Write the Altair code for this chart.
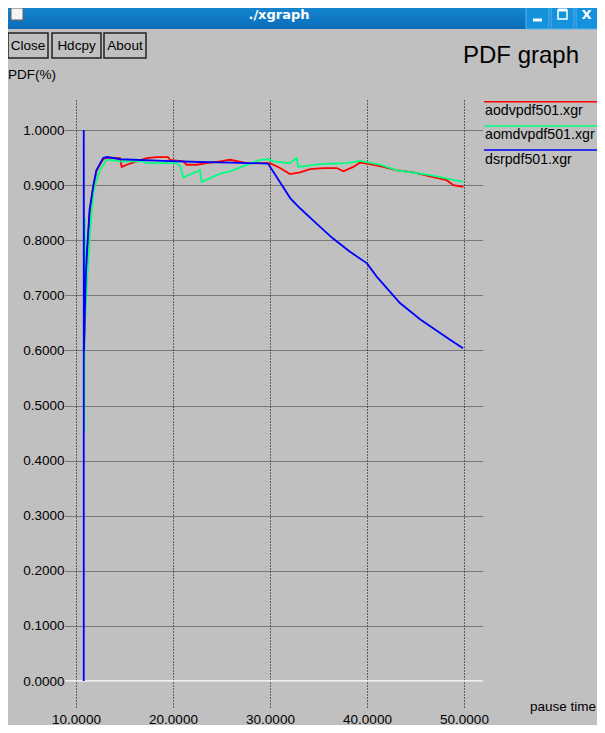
import altair as alt
import pandas as pd

# ---------------- data ----------------
series_names = ["aodvpdf501.xgr", "aomdvpdf501.xgr", "dsrpdf501.xgr"]
series_colors = ["#ff0000", "#00ff80", "#0000ff"]

aodv_x = [10.85, 11.0, 11.1, 11.4, 11.8, 12.1, 12.5, 12.8, 13.2, 14.54, 14.71, 15.23, 16.26,
          17.29, 18.32, 19.48, 19.69, 21.06, 21.41, 22.44, 23.47, 24.85, 25.88, 27.60, 30.0,
          31.03, 32.06, 33.09, 34.12, 35.49, 36.88, 37.56, 38.59, 39.28, 40.31, 41.68, 43.06,
          44.77, 46.49, 48.22, 48.90, 49.93]
aodv_y = [0.62, 0.72, 0.76, 0.85, 0.90, 0.925, 0.938, 0.947, 0.950, 0.949, 0.933, 0.937, 0.943,
          0.949, 0.951, 0.951, 0.946, 0.943, 0.937, 0.937, 0.940, 0.943, 0.946, 0.940, 0.940,
          0.931, 0.920, 0.923, 0.929, 0.931, 0.931, 0.925, 0.933, 0.941, 0.938, 0.933, 0.927,
          0.923, 0.916, 0.909, 0.900, 0.897]

aomdv_x = [10.85, 10.9, 10.95, 11.1, 11.44, 11.78, 12.13, 12.47, 13.16, 13.51, 14.54, 16.91,
           17.29, 20.38, 20.72, 21.06, 22.78, 22.96, 24.85, 25.88, 28.97, 29.82, 30.34, 32.06,
           32.75, 32.92, 35.15, 37.91, 39.28, 41.34, 43.06, 46.49, 49.93]
aomdv_y = [0.45, 0.84, 0.66, 0.716, 0.813, 0.886, 0.91, 0.927, 0.946, 0.946, 0.943, 0.943,
           0.940, 0.940, 0.935, 0.914, 0.927, 0.906, 0.921, 0.925, 0.946, 0.947, 0.943, 0.940,
           0.949, 0.933, 0.938, 0.940, 0.944, 0.937, 0.927, 0.918, 0.906]

dsr_x = [10.8, 10.8, 10.83, 10.9, 11.0, 11.1, 11.4, 11.8, 12.1, 12.5, 12.8, 13.2, 14.6, 19.0,
         22.8, 26.0, 29.8, 31.0, 32.1, 33.1, 34.8, 36.5, 38.25, 40.0, 41.0, 43.4, 45.5, 48.6,
         49.9]
dsr_y = [0.0, 1.0, 0.60, 0.66, 0.73, 0.77, 0.855, 0.90, 0.927, 0.940, 0.949, 0.951, 0.947,
         0.944, 0.942, 0.941, 0.939, 0.906, 0.876, 0.858, 0.830, 0.803, 0.779, 0.758, 0.734,
         0.686, 0.656, 0.619, 0.604]

x_ticks = [10, 20, 30, 40, 50]
y_ticks = [0.0, 0.1, 0.2, 0.3, 0.4, 0.5, 0.6, 0.7, 0.8, 0.9, 1.0]
x_domain = [8.866, 51.959]
y_domain = [-0.049, 1.0545]

window_title = "./xgraph"
button_labels = ["Close", "Hdcpy", "About"]
plot_title = "PDF graph"
y_title = "PDF(%)"
x_title = "pause time"

# ---------------- build ----------------
rows = []
for name, xs, ys in zip(series_names, [aodv_x, aomdv_x, dsr_x], [aodv_y, aomdv_y, dsr_y]):
    for i, (xv, yv) in enumerate(zip(xs, ys)):
        rows.append({"series": name, "pause": xv, "pdf": yv, "order": i})
df = pd.DataFrame(rows)

SANS = "Liberation Sans, Arial, sans-serif"
one = pd.DataFrame({"k": [0]})


def txt(s, x, y, size=13.5, font=SANS, align="left", baseline="middle", color="#000000", weight="normal"):
    return alt.Chart(one).mark_text(text=s, font=font, fontSize=size, align=align,
                                    baseline=baseline, color=color, fontWeight=weight).encode(
        x=alt.value(x), y=alt.value(y))


def rect(x, x2, y, y2, **kw):
    return alt.Chart(one).mark_rect(**kw).encode(
        x=alt.value(x), x2=alt.value(x2), y=alt.value(y), y2=alt.value(y2))


def rule(x, x2, y, y2, **kw):
    return alt.Chart(one).mark_rule(**kw).encode(
        x=alt.value(x), x2=alt.value(x2), y=alt.value(y), y2=alt.value(y2))


xscale = alt.Scale(domain=x_domain, nice=False, zero=False)
yscale = alt.Scale(domain=y_domain, nice=False, zero=False)

xaxis = alt.Axis(values=x_ticks, format=".4f", title=None, grid=True, gridColor="#000000",
                 gridDash=[1, 2], gridWidth=1, ticks=False, tickSize=0, domain=False,
                 labelPadding=4, labelFont=SANS, labelFontSize=13.5,
                 labelColor="#000000", labelFlush=False)
yaxis = alt.Axis(values=y_ticks, format=".4f", title=None, grid=True, gridColor="#000000",
                 gridDash=[1, 1], gridWidth=1.2, gridOpacity=0.75, ticks=False, tickSize=0,
                 domain=False, labelPadding=1, labelFont=SANS, labelFontSize=13.5,
                 labelColor="#000000")

lines = alt.Chart(df).mark_line(strokeWidth=1.8, clip=True).encode(
    x=alt.X("pause:Q", scale=xscale, axis=xaxis),
    y=alt.Y("pdf:Q", scale=yscale, axis=yaxis),
    color=alt.Color("series:N", scale=alt.Scale(domain=series_names, range=series_colors), legend=None),
    order="order:Q",
)

zero_line = alt.Chart(pd.DataFrame({"pdf": [0.0]})).mark_rule(color="#ffffff", strokeWidth=1.5).encode(
    y=alt.Y("pdf:Q", scale=yscale, axis=yaxis))

layers = []
# title bar
grad = alt.Gradient(gradient="linear",
                    stops=[alt.GradientStop(color="#1e9ae2", offset=0),
                           alt.GradientStop(color="#0a6cba", offset=1)],
                    x1=0, x2=0, y1=0, y2=1)
layers.append(rect(-70, 560, -110, -71, color=grad))
layers.append(rect(-54, -42, -92, -80, fill="#f4f4f4", stroke="#606060", strokeWidth=1))
layers.append(txt(window_title, 214, -85, size=13, font="DejaVu Sans", align="center",
                  color="#ffffff", weight="bold"))
for bx0, bx1 in [(461, 484), (486, 509), (511, 533)]:
    layers.append(rect(bx0, bx1, -100, -71, fill="#1592dc", stroke="#56b4ee", strokeWidth=1))
layers.append(rule(468, 477, -80, -80, color="#ffffff", strokeWidth=3))
layers.append(rect(493, 502, -90, -81, fillOpacity=0, stroke="#ffffff", strokeWidth=1.5))
layers.append(rule(493, 502, -90, -90, color="#ffffff", strokeWidth=3))
layers.append(txt("X", 521.5, -85, size=13, font="DejaVu Sans", align="center",
                  color="#ffffff", weight="bold"))

# buttons
for lbl, (bx0, bx1) in zip(button_labels, [(-57, -17), (-13, 36), (39, 81)]):
    layers.append(rect(bx0, bx1, -67, -42, fillOpacity=0, stroke="#222222", strokeWidth=1.5))
    layers.append(txt(lbl, (bx0 + bx1) / 2, -54.5, size=13.5, align="center"))

layers.append(txt(y_title, -57, -25, size=13.5))
layers.append(txt(plot_title, 398, -37, size=24, baseline="alphabetic"))
layers.append(txt(x_title, 465, 607, size=13.5))

layers.append(zero_line)
layers.append(lines)

# legend
for i, (name, col) in enumerate(zip(series_names, series_colors)):
    ly = 1.7 + 24.2 * i
    layers.append(rule(419, 545, ly, ly, color=col, strokeWidth=1.5))
    layers.append(txt(name, 420, ly + 9.5, size=14.2))

chart = alt.layer(*layers).properties(
    width=418, height=608, background="#c0c0c0",
    padding={"left": 57, "top": 92, "right": 114, "bottom": 17},
    autosize=alt.AutoSizeParams(type="none"),
).configure_view(strokeWidth=0)

chart.save("out.html", embed_options={"renderer": "svg", "actions": False})
